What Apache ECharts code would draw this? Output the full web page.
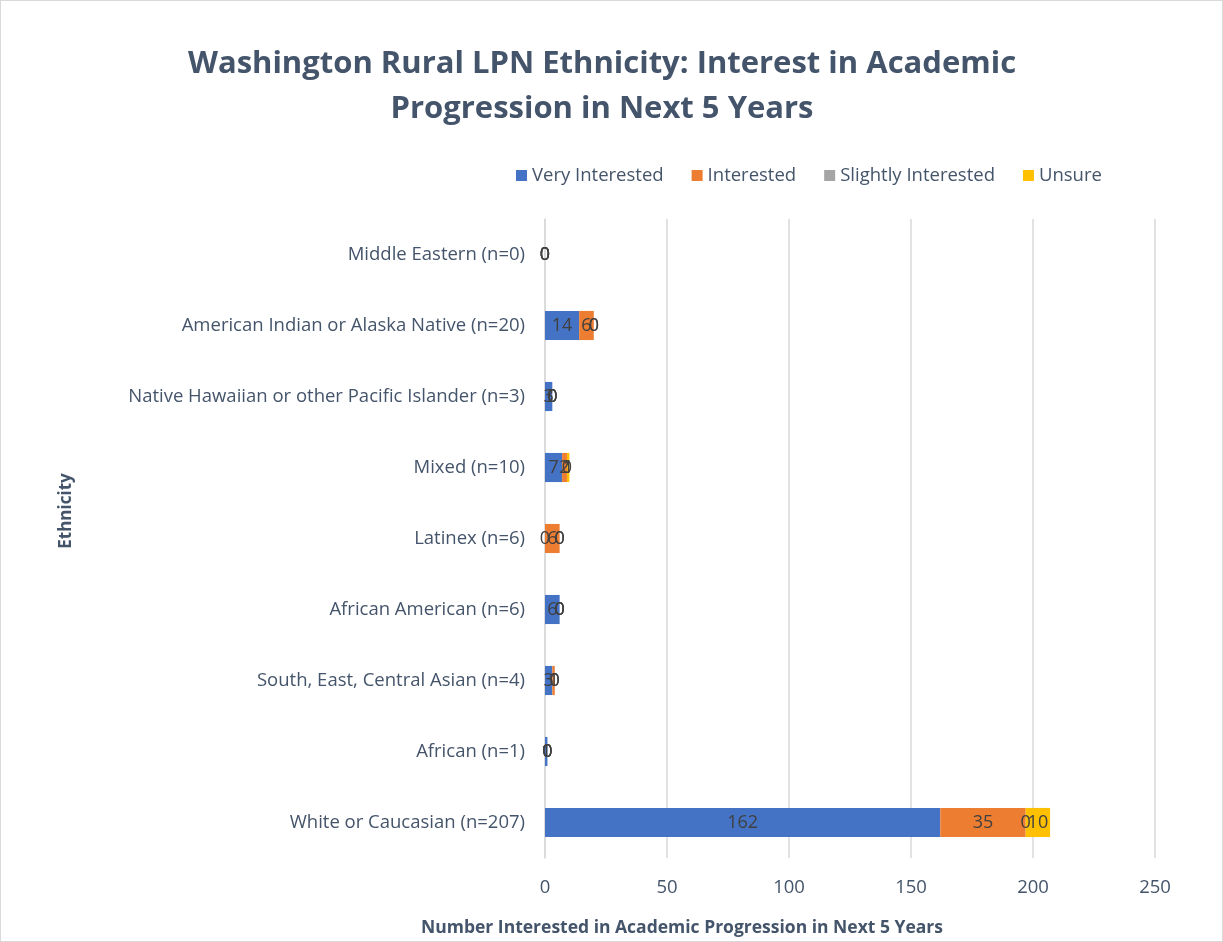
<!DOCTYPE html>
<html>
<head>
<meta charset="utf-8">
<script src="https://cdn.jsdelivr.net/npm/echarts@6/dist/echarts.min.js"></script>
<style>
  html, body { margin: 0; padding: 0; background: #fff; }
  #chart { width: 1223px; height: 942px; box-sizing: border-box; border: 1px solid #d9d9d9; }
</style>
</head>
<body>
<div id="chart"></div>
<script>
// categories, bottom to top
const ethnicities = [
  "White or Caucasian (n=207)",
  "African (n=1)",
  "South, East, Central Asian (n=4)",
  "African American (n=6)",
  "Latinex (n=6)",
  "Mixed (n=10)",
  "Native Hawaiian or other Pacific Islander (n=3)",
  "American Indian or Alaska Native (n=20)",
  "Middle Eastern (n=0)"
];
const veryInterested     = [162, 1, 3, 6, 0, 7, 3, 14, 0];
const interested         = [35, 0, 1, 0, 6, 2, 0, 6, 0];
const slightlyInterested = [0, 0, 0, 0, 0, 0, 0, 0, 0];
const unsure             = [10, 0, 0, 0, 0, 1, 0, 0, 0];
const seriesNames = ["Very Interested", "Interested", "Slightly Interested", "Unsure"];
const seriesColors = ["#4472C4", "#ED7D31", "#A5A5A5", "#FFC000"];

const textColor = "#44546A";
const font = "'Open Sans', sans-serif";

const chart = echarts.init(document.getElementById("chart"));

function makeSeries(name, data, color) {
  return {
    name: name,
    type: "bar",
    stack: "total",
    barWidth: "41%",
    data: data,
    itemStyle: { color: color },
    label: {
      show: true,
      position: "inside",
      color: "#404040",
      fontSize: 18,
      fontFamily: font
    }
  };
}

const option = {
  backgroundColor: "#fff",
  textStyle: { fontFamily: font },
  title: [
    {
      text: "Washington Rural LPN Ethnicity: Interest in Academic\nProgression in Next 5 Years",
      left: 596,
      top: 36,
      textAlign: "center",
      textStyle: {
        color: textColor,
        fontSize: 31,
        fontWeight: "bold",
        lineHeight: 45,
        fontFamily: font
      }
    },
    {
      // x axis title, centred under the whole plot like the original
      text: "Number Interested in Academic Progression in Next 5 Years",
      left: 676,
      top: 913,
      textAlign: "center",
      textStyle: { color: textColor, fontSize: 17.5, fontWeight: "bold", fontFamily: font }
    }
  ],
  graphic: [
    {
      type: "text",
      x: 65,
      y: 510,
      rotation: Math.PI / 2,
      style: {
        text: "Ethnicity",
        fill: textColor,
        font: "bold 17px 'Open Sans', sans-serif",
        align: "center",
        verticalAlign: "middle"
      }
    }
  ],
  legend: {
    data: seriesNames,
    left: 510,
    top: 160,
    itemWidth: 11,
    itemHeight: 11,
    itemGap: 28,
    icon: "rect",
    textStyle: { color: textColor, fontSize: 18.5, fontFamily: font }
  },
  grid: {
    left: 544,
    right: 67,
    top: 218,
    bottom: 83
  },
  xAxis: {
    type: "value",
    min: 0,
    max: 250,
    interval: 50,
    axisLine: { show: false },
    axisTick: { show: false },
    axisLabel: { color: textColor, fontSize: 18.5, margin: 20, fontFamily: font },
    splitLine: { lineStyle: { color: "#d9d9d9", width: 1.5 } }
  },
  yAxis: {
    type: "category",
    data: ethnicities,
    axisLine: { show: true, lineStyle: { color: "#d9d9d9", width: 1.5 } },
    axisTick: { show: false },
    axisLabel: { color: textColor, fontSize: 18.5, margin: 20, fontFamily: font }
  },
  series: [
    makeSeries(seriesNames[0], veryInterested, seriesColors[0]),
    makeSeries(seriesNames[1], interested, seriesColors[1]),
    makeSeries(seriesNames[2], slightlyInterested, seriesColors[2]),
    makeSeries(seriesNames[3], unsure, seriesColors[3])
  ]
};

chart.setOption(option);
</script>
</body>
</html>
